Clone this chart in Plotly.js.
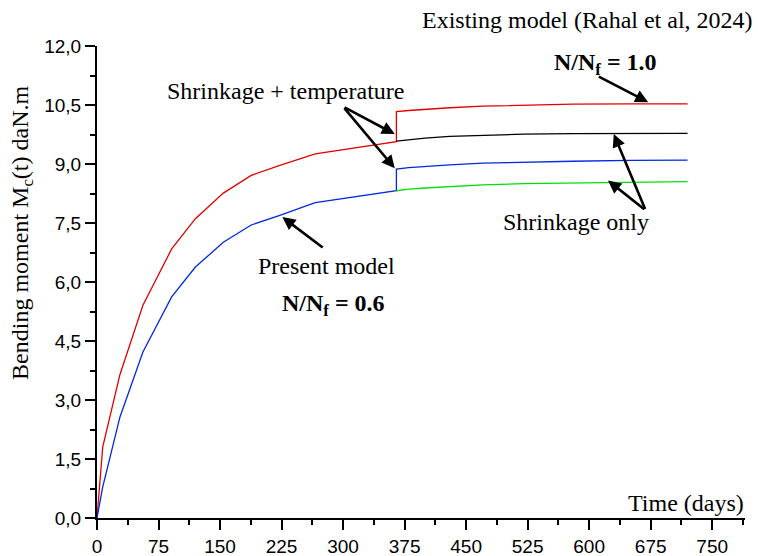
<!DOCTYPE html>
<html>
<head>
<meta charset="utf-8">
<script src="https://cdn.plot.ly/plotly-3.0.1.min.js"></script>
<style>html,body{margin:0;padding:0;background:#fff;}#chart{width:758px;height:556px;}</style>
</head>
<body>
<div id="chart"></div>
<script>
// Time (days) for the first 365 days
const daysEarly = [0, 7, 28, 56, 91, 120, 154, 188, 222, 266, 365];
// Time (days) after the jump at 365 days
const daysLate = [365, 380, 400, 430, 470, 520, 580, 650, 720];

// N/Nf = 1.0 (red): early part, then shrinkage + temperature after 365
const redEarly = [0, 1.81, 3.65, 5.41, 6.84, 7.61, 8.26, 8.71, 8.96, 9.26, 9.57];
const redLate = [10.33, 10.36, 10.39, 10.43, 10.47, 10.50, 10.52, 10.53, 10.53];
// N/Nf = 1.0 shrinkage only after 365 (black)
const blackLate = [9.58, 9.62, 9.66, 9.70, 9.73, 9.76, 9.77, 9.78, 9.78];
// N/Nf = 0.6 (blue): early part, then shrinkage + temperature after 365
const blueEarly = [0, 0.79, 2.57, 4.22, 5.62, 6.38, 7.01, 7.45, 7.69, 8.02, 8.32];
const blueLate = [8.87, 8.91, 8.94, 8.98, 9.02, 9.05, 9.07, 9.09, 9.10];
// N/Nf = 0.6 shrinkage only after 365 (green)
const greenLate = [8.32, 8.36, 8.39, 8.43, 8.47, 8.50, 8.52, 8.54, 8.55];

const xTicks = [0, 75, 150, 225, 300, 375, 450, 525, 600, 675, 750];
const yTicks = [0, 1.5, 3, 4.5, 6, 7.5, 9, 10.5, 12];

const red = 'rgb(225,0,0)', blue = 'rgb(0,40,225)', green = 'rgb(0,225,0)', black = 'rgb(0,0,0)';
const lw = 1.3;

const traces = [
  {x: daysEarly.concat(daysLate), y: redEarly.concat(redLate), mode: 'lines', line: {color: red, width: lw}, name: 'N/Nf=1.0 shrinkage + temperature'},
  {x: daysLate, y: blackLate, mode: 'lines', line: {color: black, width: lw}, name: 'N/Nf=1.0 shrinkage only'},
  {x: daysEarly.concat(daysLate), y: blueEarly.concat(blueLate), mode: 'lines', line: {color: blue, width: lw}, name: 'N/Nf=0.6 shrinkage + temperature'},
  {x: daysLate, y: greenLate, mode: 'lines', line: {color: green, width: lw}, name: 'N/Nf=0.6 shrinkage only'}
];

const serif = 'Liberation Serif';
const sans = 'Liberation Sans';

function txt(x, y, text, size, extra) {
  return Object.assign({x: x, y: y, xref: 'x', yref: 'y', text: text, showarrow: false,
    xanchor: 'center', yanchor: 'middle',
    font: {family: serif, size: size, color: '#000'}}, extra || {});
}
function arrow(tx, ty, hx, hy) {
  return {x: hx, y: hy, ax: tx, ay: ty, xref: 'x', yref: 'y', axref: 'x', ayref: 'y',
    text: '', showarrow: true, arrowhead: 2, arrowsize: 1, arrowwidth: 2.6, arrowcolor: '#000', standoff: 0};
}

const annotations = [
  txt(1.015, 1.055, 'Existing model (Rahal et al, 2024)', 24, {xref: 'paper', yref: 'paper', xanchor: 'right'}),
  txt(620, 11.55, '<b>N/N<sub>f</sub> = 1.0</b>', 24),
  arrow(610, 11.24, 672, 10.57),
  txt(230, 10.86, 'Shrinkage + temperature', 24),
  arrow(300, 10.46, 363, 9.76),
  arrow(300, 10.46, 363, 8.89),
  txt(280, 6.40, 'Present model', 24),
  arrow(277, 6.85, 226, 7.65),
  txt(288, 5.42, '<b>N/N<sub>f</sub> = 0.6</b>', 24),
  txt(584, 7.52, 'Shrinkage only', 24),
  arrow(669, 7.82, 630, 9.76),
  arrow(669, 7.82, 623, 8.58),
  txt(718.5, 0.39, 'Time (days)', 24),
  {x: -0.1157, y: 0.604, xref: 'paper', yref: 'paper', text: 'Bending moment M<sub>c</sub>(t) daN.m', showarrow: false,
    textangle: -90, xanchor: 'center', yanchor: 'middle', font: {family: serif, size: 24, color: '#000'}}
];

const layout = {
  width: 758, height: 556,
  margin: {l: 97, r: 13, t: 46, b: 38},
  paper_bgcolor: '#fff', plot_bgcolor: '#fff',
  showlegend: false,
  separators: ', ',
  xaxis: {
    range: [0, 790], tickvals: xTicks, ticktext: xTicks.map(String),
    showline: true, linecolor: '#000', linewidth: 2, zeroline: false, showgrid: false,
    ticks: 'outside', ticklen: 10, tickwidth: 2, tickcolor: '#000',
    tickfont: {family: sans, size: 19, color: '#000'},
    minor: {tickvals: xTicks.map(v => v + 37.5), ticks: 'outside', ticklen: 5, tickwidth: 2, tickcolor: '#000', showgrid: false}
  },
  yaxis: {
    range: [0, 12], tickvals: yTicks, tickformat: '.1f',
    showline: true, linecolor: '#000', linewidth: 2, zeroline: false, showgrid: false,
    ticks: 'outside', ticklen: 10, tickwidth: 2, tickcolor: '#000',
    tickfont: {family: sans, size: 19, color: '#000'},
    minor: {tickvals: yTicks.slice(0, -1).map(v => v + 0.75), ticks: 'outside', ticklen: 5, tickwidth: 2, tickcolor: '#000', showgrid: false}
  },
  annotations: annotations
};

Plotly.newPlot('chart', traces, layout, {displayModeBar: false, staticPlot: true});
</script>
</body>
</html>
